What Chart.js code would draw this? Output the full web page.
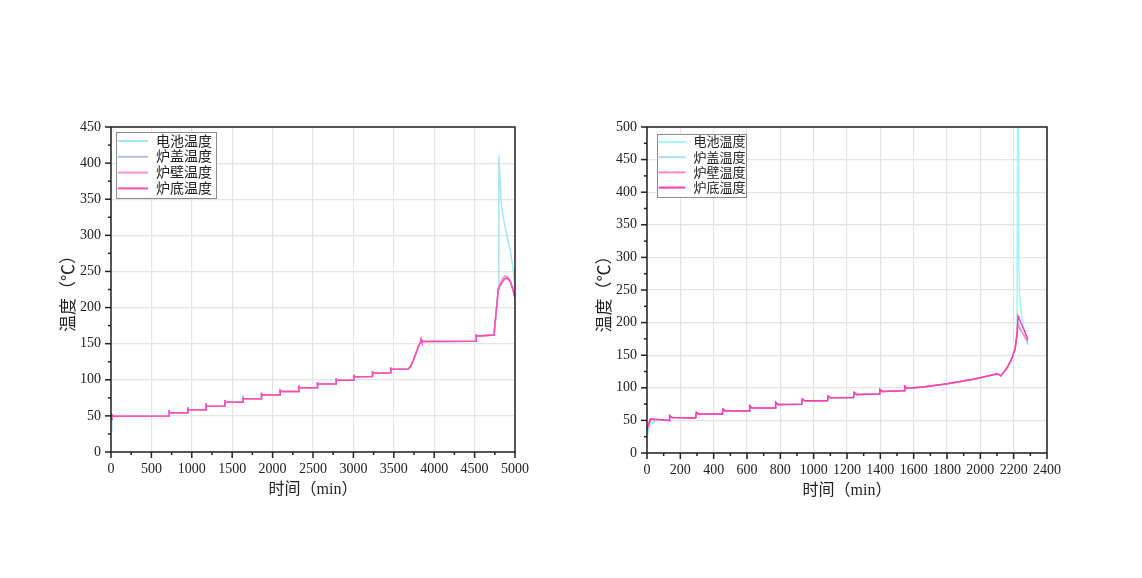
<!DOCTYPE html>
<html><head><meta charset="utf-8">
<script src="https://cdn.jsdelivr.net/npm/chart.js@4/dist/chart.umd.min.js"></script>
<style>
body{margin:0;background:#fff;width:1142px;height:578px;overflow:hidden;position:relative}
canvas{position:absolute;top:0}
#c1{left:0}#c2{left:571px}
</style></head><body>
<canvas id="c1" width="571" height="578"></canvas>
<canvas id="c2" width="571" height="578"></canvas>
<script>
// ---------------- DATA ----------------
const seriesNames = ['电池温度', '炉盖温度', '炉壁温度', '炉底温度'];
const xTitle = '时间（min）';
const yTitle = '温度（℃）';

// Left chart
const leftTime = [0, 10, 25, 40,
  718, 719, 721, 949, 950, 952, 1176, 1177, 1179, 1407, 1408, 1410,
  1634, 1635, 1637, 1861, 1862, 1864, 2092, 2093, 2095, 2323, 2324, 2326,
  2554, 2555, 2557, 2785, 2786, 2788, 3007, 3008, 3010, 3234, 3235, 3237,
  3461, 3462, 3464,
  3680, 3710, 3742, 3775, 3805, 3830, 3837, 3845,
  4518, 4519, 4521, 4740,
  4794, 4800, 4830, 4850, 4870, 4900, 4940, 4970, 5000];
const leftBottom = [45, 52, 50, 49.5,
  49.8, 58, 54.5, 54.5, 62, 58.5, 58.5, 67, 63.5, 63.6, 72, 68.8,
  68.9, 77, 73.8, 73.9, 82, 79, 79, 87, 83.8, 83.8, 92, 88.8,
  88.9, 97, 94, 94, 102, 99.2, 99.3, 107, 104.3, 104.4, 112, 109.5,
  109.6, 117, 114.6,
  115, 119, 127, 137, 146, 152, 156, 153,
  153.5, 163, 160.5, 162,
  226, 227, 233, 236.5, 239.5, 241, 236, 226, 213];
const leftWall = [45, 52, 50, 49.5,
  49.8, 58, 54.5, 54.5, 62, 58.5, 58.5, 67, 63.5, 63.6, 72, 68.8,
  68.9, 77, 73.8, 73.9, 82, 79, 79, 87, 83.8, 83.8, 92, 88.8,
  88.9, 97, 94, 94, 102, 99.2, 99.3, 107, 104.3, 104.4, 112, 109.5,
  109.6, 117, 114.6,
  115, 119, 127, 137, 146, 152, 156, 153,
  153.5, 163, 160.5, 162,
  226, 228, 237, 241, 243.5, 243.5, 238, 228, 214];
const leftLid = [45, 52, 50, 49.5,
  49.8, 58, 54.5, 54.5, 62, 58.5, 58.5, 67, 63.5, 63.6, 72, 68.8,
  68.9, 77, 73.8, 73.9, 82, 79, 79, 87, 83.8, 83.8, 92, 88.8,
  88.9, 97, 94, 94, 102, 99.2, 99.3, 107, 104.3, 104.4, 112, 109.5,
  109.6, 117, 114.6,
  115, 119, 127, 137, 146, 152, 156, 153,
  153.5, 163, 160.5, 162,
  226, 227.5, 235, 239, 242, 242.5, 237, 227, 213.5];
const leftBattery = [28, 44, 49.5, 49.5,
  49.8, 58, 54.5, 54.5, 62, 58.5, 58.5, 67, 63.5, 63.6, 72, 68.8,
  68.9, 77, 73.8, 73.9, 82, 79, 79, 87, 83.8, 83.8, 92, 88.8,
  88.9, 97, 94, 94, 102, 99.2, 99.3, 107, 104.3, 104.4, 112, 109.5,
  109.6, 117, 114.6,
  115, 119, 127, 137, 146, 152, 156, 153,
  153.5, 163, 160.5, 162,
  226, 411, 345, 327, 316, 300, 280, 258, 232];

// Right chart
const rightTime = [0, 20, 60, 100,
  134, 136, 150, 292, 296, 310, 452, 456, 470, 612, 616, 630,
  768, 772, 786, 928, 932, 946, 1083, 1087, 1101, 1239, 1243, 1257,
  1393, 1397, 1411, 1542, 1546, 1560,
  1658, 1802, 1959, 2103, 2123, 2159, 2189, 2209, 2220,
  2226, 2230, 2236, 2250, 2286];
const rightBottom = [36, 52, 51.5, 50.5,
  50, 57.5, 54.6, 53.8, 62.5, 60, 59.8, 67.5, 64.5, 64.4, 72.7, 69,
  69.2, 78, 74.5, 74.7, 83, 80, 80, 87.5, 84.7, 85, 93, 89.8,
  90.5, 97.5, 94.5, 95.5, 102.5, 99.3,
  101.2, 106.3, 113.2, 121.5, 118.3, 130, 145, 160, 182,
  210, 207.5, 204, 196, 174];
const rightWall = [36, 52, 51.5, 50.5,
  50, 57.5, 54.6, 53.8, 62.5, 60, 59.8, 67.5, 64.5, 64.4, 72.7, 69,
  69.2, 78, 74.5, 74.7, 83, 80, 80, 87.5, 84.7, 85, 93, 89.8,
  90.5, 97.5, 94.5, 95.5, 102.5, 99.3,
  101.2, 106.3, 113.2, 121.5, 118.3, 130, 145, 160, 182,
  196, 194, 191, 185, 171];
const rightLid = [30, 47, 51, 50.5,
  50, 56.5, 54.3, 53.8, 61.5, 59.7, 59.8, 66.5, 64.2, 64.4, 71.7, 68.7,
  69.2, 77, 74.2, 74.7, 82, 79.7, 80, 86.5, 84.4, 85, 92, 89.5,
  90.5, 96.5, 94.2, 95.5, 101.5, 99,
  101.2, 106.3, 113.2, 121.5, 118.3, 130, 145, 160, 182,
  200, 197, 193, 186, 166];
const rightBattery = [24, 44, 50.5, 50.5,
  50, 55.5, 54, 53.8, 60.5, 59.5, 59.8, 65.5, 64, 64.4, 70.7, 68.5,
  69.2, 76, 74, 74.7, 81, 79.5, 80, 85.5, 84.2, 85, 91, 89.3,
  90.5, 95.5, 94, 95.5, 100.5, 98.8,
  101.2, 106.3, 113.2, 121.5, 118.3, 130, 145, 160, 182,
  700, 300, 240, 206, 167];

const leftColors = ['#a6e3f7', '#b6bcf2', '#ff90d0', '#ff4cb0'];
const rightColors = ['#9ef7f7', '#a6dff8', '#ff84ca', '#ff3cae'];

// ---------------- PLUGINS ----------------
const FONT = '"Liberation Serif", "Noto Sans CJK SC", serif';

const frame = {
  id: 'frame',
  afterDraw(chart, args, o) {
    const {ctx, chartArea: a} = chart;
    ctx.save();
    ctx.strokeStyle = '#222';
    ctx.lineWidth = 1.5;
    const xs = chart.scales.x, ys = chart.scales.y;
    xs.ticks.forEach(t => {
      const px = xs.getPixelForValue(t.value);
      const len = (t.value % o.xMajor === 0) ? 6 : 3;
      ctx.beginPath(); ctx.moveTo(px, a.bottom); ctx.lineTo(px, a.bottom + len); ctx.stroke();
    });
    ys.ticks.forEach(t => {
      const py = ys.getPixelForValue(t.value);
      const len = (t.value % o.yMajor === 0) ? 6 : 3;
      ctx.beginPath(); ctx.moveTo(a.left, py); ctx.lineTo(a.left - len, py); ctx.stroke();
    });
    ctx.strokeRect(a.left, a.top, a.right - a.left, a.bottom - a.top);
    ctx.restore();
  }
};

const boxLegend = {
  id: 'boxLegend',
  afterDatasetsDraw(chart, args, o) {
    const {ctx, chartArea: a} = chart;
    const x = a.left + o.dx, y = a.top + o.dy;
    ctx.save();
    ctx.fillStyle = '#fff';
    ctx.fillRect(x, y, o.w, o.h);
    ctx.strokeStyle = '#8c8c8c'; ctx.lineWidth = 1;
    ctx.strokeRect(Math.round(x) + 0.5, Math.round(y) + 0.5, o.w, o.h);
    ctx.font = o.font;
    ctx.textBaseline = 'middle';
    chart.data.datasets.forEach((ds, i) => {
      const ry = y + o.first + i * o.gap;
      ctx.strokeStyle = ds.borderColor; ctx.lineWidth = 2;
      ctx.beginPath(); ctx.moveTo(x + o.l0, ry); ctx.lineTo(x + o.l1, ry); ctx.stroke();
      ctx.fillStyle = '#222';
      ctx.fillText(ds.label, x + o.tx, ry + 1);
    });
    ctx.restore();
  }
};

function makeDatasets(time, arrays, colors) {
  return arrays.map((vals, i) => ({
    label: seriesNames[i],
    data: time.map((t, k) => ({x: t, y: vals[k]})),
    borderColor: colors[i],
    backgroundColor: colors[i],
    borderWidth: 1.5,
    pointRadius: 0,
    tension: 0,
    order: 3 - i
  }));
}

function makeChart(id, cfg) {
  const gridCol = (major) => (ctx) => (ctx.tick && ctx.tick.value % major === 0) ? '#e4e4e4' : 'rgba(0,0,0,0)';
  return new Chart(document.getElementById(id), {
    type: 'line',
    data: {datasets: makeDatasets(cfg.time, cfg.arrays, cfg.colors)},
    plugins: [boxLegend, frame],
    options: {
      responsive: false,
      animation: false,
      devicePixelRatio: 1,
      layout: {padding: cfg.padding},
      plugins: {
        legend: {display: false},
        tooltip: {enabled: false},
        frame: {xMajor: cfg.xMajor, yMajor: cfg.yMajor},
        boxLegend: cfg.legend
      },
      scales: {
        x: {
          type: 'linear', min: 0, max: cfg.xMax,
          afterFit: s => { s.height = 47; },
          border: {display: false},
          grid: {color: gridCol(cfg.xMajor), lineWidth: 1.2, drawTicks: false},
          ticks: {
            stepSize: cfg.xStep, autoSkip: false, maxRotation: 0, padding: 9,
            color: '#222', font: {family: FONT, size: 14},
            callback: v => (v % cfg.xMajor === 0 ? String(v) : '')
          },
          title: {display: true, text: xTitle, color: '#222', padding: 0,
                  font: {family: FONT, size: 16}}
        },
        y: {
          type: 'linear', min: 0, max: cfg.yMax,
          afterFit: s => { s.width = 50; },
          border: {display: false},
          grid: {color: gridCol(cfg.yMajor), lineWidth: 1.2, drawTicks: false},
          ticks: {
            stepSize: cfg.yStep, autoSkip: false, padding: 10,
            color: '#222', font: {family: FONT, size: 14},
            callback: v => (v % cfg.yMajor === 0 ? String(v) : '')
          },
          title: {display: true, text: yTitle, color: '#222', padding: {top: -2, bottom: 0},
                  font: {family: FONT, size: 17}}
        }
      }
    }
  });
}

makeChart('c1', {
  time: leftTime,
  arrays: [leftBattery, leftLid, leftWall, leftBottom],
  colors: leftColors,
  xMax: 5000, xStep: 250, xMajor: 500,
  yMax: 450, yStep: 25, yMajor: 50,
  padding: {left: 61, right: 56, top: 127, bottom: 79},
  legend: {dx: 5, dy: 4.5, w: 100, h: 66, first: 9.5, gap: 15.8, l0: 2, l1: 32, tx: 40,
           font: '14px ' + FONT}
});

makeChart('c2', {
  time: rightTime,
  arrays: [rightBattery, rightLid, rightWall, rightBottom],
  colors: rightColors,
  xMax: 2400, xStep: 100, xMajor: 200,
  yMax: 500, yStep: 25, yMajor: 50,
  padding: {left: 26, right: 95, top: 127, bottom: 78},
  legend: {dx: 9.5, dy: 6.5, w: 89, h: 63, first: 8.5, gap: 15.2, l0: 2, l1: 29, tx: 37,
           font: '13px ' + FONT}
});
</script>
</body></html>
